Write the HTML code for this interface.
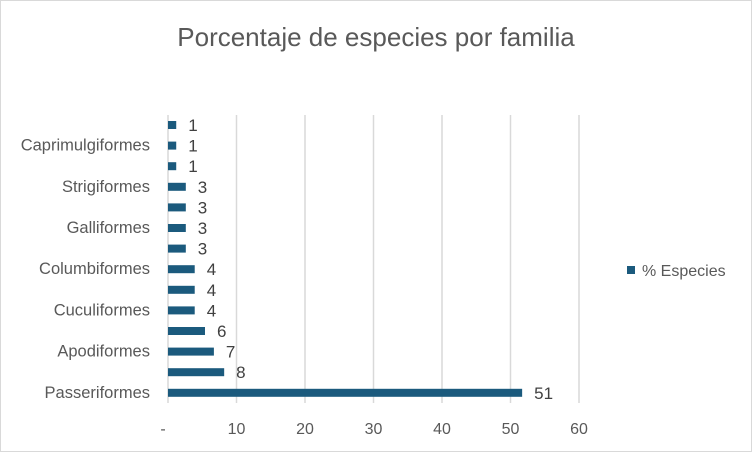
<!DOCTYPE html>
<html><head><meta charset="utf-8"><style>
body{margin:0;background:#fff;font-family:"Liberation Sans",sans-serif;}
#c{position:relative;width:752px;height:452px;box-sizing:border-box;border:1px solid #d9d9d9;}
</style></head><body>
<div id="c">
<svg id="s" width="752" height="452" style="position:absolute;left:-1px;top:-1px">
<text x="376" y="46" text-anchor="middle" font-size="26" fill="#595959">Porcentaje de especies por familia</text>
</svg>
</div>
<script>
const categories=["Fam14","Caprimulgiformes","Fam12","Strigiformes","Fam10","Galliformes","Fam8","Columbiformes","Fam6","Cuculiformes","Fam4","Apodiformes","Fam2","Passeriformes"];
const showLabel=[false,true,false,true,false,true,false,true,false,true,false,true,false,true];
const values=[1.2,1.2,1.2,2.6,2.6,2.6,2.6,3.9,3.9,3.9,5.4,6.7,8.2,51.7];
const valueLabels=["1","1","1","3","3","3","3","4","4","4","6","7","8","51"];
const ticks=[0,10,20,30,40,50,60];
const tickLabels=["-","10","20","30","40","50","60"];
const ns="http://www.w3.org/2000/svg",s=document.getElementById("s");
const x=v=>168+v*6.85, y=i=>125+i*20.6;
function el(t,a,txt){const e=document.createElementNS(ns,t);for(const k in a)e.setAttribute(k,a[k]);if(txt!==undefined)e.textContent=txt;s.appendChild(e);return e;}
ticks.forEach((t,i)=>{
 const g=el("line",{x1:x(t),x2:x(t),y1:115,y2:403,stroke:"#d9d9d9","stroke-width":1.5});
 
 
 const l=el("text",{x:i==0?x(t)-5:x(t),y:434,"text-anchor":"middle","font-size":16,fill:"#595959"},tickLabels[i]);
 
 
});
categories.forEach((c,i)=>{
 const b=el("rect",{x:x(0),y:y(i)-4,width:x(values[i])-x(0),height:8,fill:"#1b5a7d"});
 
 
 const v=el("text",{x:x(values[i])+12,y:y(i)+6,"font-size":17,fill:"#404040"},valueLabels[i]);
 
 
 if(showLabel[i]){
  const l=el("text",{x:150,y:y(i)+5,"text-anchor":"end","font-size":16.5,fill:"#595959"},c);
  
  
 }
});
const lg=el("rect",{x:627,y:266,width:8,height:8,fill:"#1b5a7d"});


const lt=el("text",{x:642,y:276,"font-size":16,fill:"#595959"},"% Especies");


</script>
</body></html>
